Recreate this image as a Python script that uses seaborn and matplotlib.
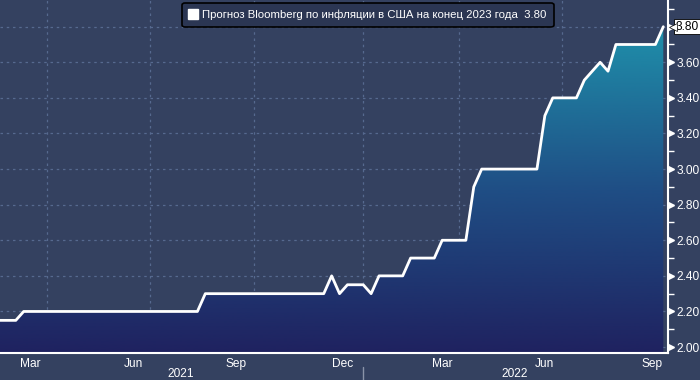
import numpy as np
import pandas as pd
import matplotlib
matplotlib.use('Agg')
import matplotlib.pyplot as plt
import matplotlib.dates as mdates
import matplotlib.transforms as mtransforms
from matplotlib.colors import LinearSegmentedColormap
from matplotlib.lines import Line2D
import seaborn as sns

# puntos de quiebre del pronóstico (semanal, jueves)
fechas = ['2021-02-18', '2021-03-04', '2021-03-11', '2021-08-12', '2021-08-19',
          '2021-12-02', '2021-12-09', '2021-12-16', '2021-12-23', '2022-01-06',
          '2022-01-13', '2022-01-20', '2022-02-10', '2022-02-17', '2022-03-10',
          '2022-03-17', '2022-04-07', '2022-04-14', '2022-04-21', '2022-06-09',
          '2022-06-16', '2022-06-23', '2022-07-14', '2022-07-21', '2022-08-04',
          '2022-08-11', '2022-08-18', '2022-09-22', '2022-09-29']
valores = [2.15, 2.15, 2.20, 2.20, 2.30,
           2.30, 2.40, 2.30, 2.35, 2.35,
           2.30, 2.40, 2.40, 2.50, 2.50,
           2.60, 2.60, 2.90, 3.00, 3.00,
           3.30, 3.40, 3.40, 3.50, 3.60,
           3.55, 3.70, 3.70, 3.80]

etiquetas_mes = ['Mar', 'Jun', 'Sep', 'Dec', 'Mar', 'Jun', 'Sep']
fechas_mes = ['2021-03-17', '2021-06-16', '2021-09-15', '2021-12-19',
              '2022-03-17', '2022-06-16', '2022-09-19']
anios = ['2021', '2022']
fechas_anio = ['2021-07-28', '2022-05-20']
fechas_grid = ['2021-04-01', '2021-07-01', '2021-10-01', '2022-01-06',
               '2022-04-01', '2022-07-01']
titulo = 'Прогноз Bloomberg по инфляции в США на конец 2023 года  3.80'

df = pd.DataFrame({'fecha': pd.to_datetime(fechas), 'valor': valores})

fondo = '#344160'
color_grid = '#56698f'
sns.set_style('dark')
plt.rcParams['font.family'] = ['Liberation Sans', 'DejaVu Sans']

fig = plt.figure(figsize=(7, 3.8), dpi=100, facecolor=fondo)
ax = fig.add_axes([0, 0.0703, 0.954, 0.9297])
ax.set_facecolor(fondo)

xmin, xmax = pd.Timestamp('2021-02-18'), pd.Timestamp('2022-10-03')
ymin, ymax = 1.965, 3.95

# relleno con degradado
poly = ax.fill_between(df['fecha'], df['valor'], ymin, color='none', lw=0)
cmap = LinearSegmentedColormap.from_list('grad', ['#1f2260', '#1f4e85', '#1f90ab'])
grad = np.linspace(0, 1, 256).reshape(-1, 1)
im = ax.imshow(grad, cmap=cmap, aspect='auto', origin='lower', zorder=1,
               extent=[mdates.date2num(xmin), mdates.date2num(xmax), ymin, 3.8])
im.set_clip_path(poly.get_paths()[0], transform=ax.transData)

sns.lineplot(data=df, x='fecha', y='valor', color='white', lw=2, ax=ax,
             zorder=4, legend=False)

ax.set_xlim(xmin, xmax)
ax.set_ylim(ymin, ymax)

# eje y a la derecha
yt = np.round(np.arange(2.0, 3.81, 0.2), 2)
ax.set_yticks(yt)
ax.set_yticklabels([f'{v:.2f}' if v < 3.7 else '' for v in yt])
ax.set_yticks(np.round(np.arange(2.1, 3.95, 0.2), 2), minor=True)
ax.yaxis.tick_right()
ax.tick_params(axis='y', which='major', colors='white', labelsize=8.6,
               length=0, pad=6)
ax.tick_params(axis='y', which='minor', colors='white', length=4, width=1)
blend_y = mtransforms.blended_transform_factory(ax.transAxes, ax.transData)
ax.plot([1.005] * len(yt), yt, '>', color='white', ms=4, transform=blend_y,
        clip_on=False, zorder=5)
ax.yaxis.grid(True, color=color_grid, ls=(0, (2, 3)), lw=0.9)

# eje x
ax.xaxis.set_major_locator(mdates.MonthLocator())
ax.xaxis.set_major_formatter(plt.NullFormatter())
ax.tick_params(axis='x', which='both', colors='white', length=3, width=1,
               direction='out')
ax.xaxis.grid(False)
for f in fechas_grid:
    ax.axvline(pd.Timestamp(f), color=color_grid, ls=(0, (2, 3)), lw=0.9, zorder=0.5)
ax.set_xlabel('')
ax.set_ylabel('')
ax.set_axisbelow(True)

for s in ['top', 'left']:
    ax.spines[s].set_visible(False)
for s in ['right', 'bottom']:
    ax.spines[s].set_color('white')
    ax.spines[s].set_linewidth(1.5)

blend_x = mtransforms.blended_transform_factory(ax.transData, ax.transAxes)
for etq, f in zip(etiquetas_mes, fechas_mes):
    ax.text(pd.Timestamp(f), -0.012, etq, transform=blend_x, ha='center',
            va='top', color='white', fontsize=8.6)
for etq, f in zip(anios, fechas_anio):
    ax.text(pd.Timestamp(f), -0.06, etq, transform=blend_x, ha='center',
            va='center', color='white', fontsize=8.6)
ax.plot([pd.Timestamp('2022-01-06')] * 2, [-0.039, -0.08], color='#8a93a8',
        lw=1, transform=blend_x, clip_on=False)

# leyenda
h = Line2D([], [], marker='s', color='white', ls='none', ms=7.5)
leg = ax.legend([h], [titulo], loc='upper center', bbox_to_anchor=(0.551, 0.992),
                frameon=True, fancybox=True, facecolor='#2b3653', edgecolor='black',
                framealpha=1, fontsize=8.2, labelcolor='white', handlelength=0.7,
                handletextpad=0.45, borderpad=0.6, borderaxespad=0)
leg.get_frame().set_linewidth(1.2)

# etiqueta del último valor
ax.annotate(f'{valores[-1]:.2f}', xy=(1.0, valores[-1]), xycoords=blend_y,
            xytext=(5.5, 0), textcoords='offset points', ha='left', va='center',
            fontsize=8.6, color='black', annotation_clip=False, zorder=7,
            bbox=dict(boxstyle='square,pad=0.12', fc='white', ec='black', lw=0.6))
ax.plot([1.008], [valores[-1]], '<', color='white', mec='black', mew=0.5, ms=5.5,
        transform=blend_y, clip_on=False, zorder=8)

fig.savefig('out.png', dpi=100, facecolor=fondo)
